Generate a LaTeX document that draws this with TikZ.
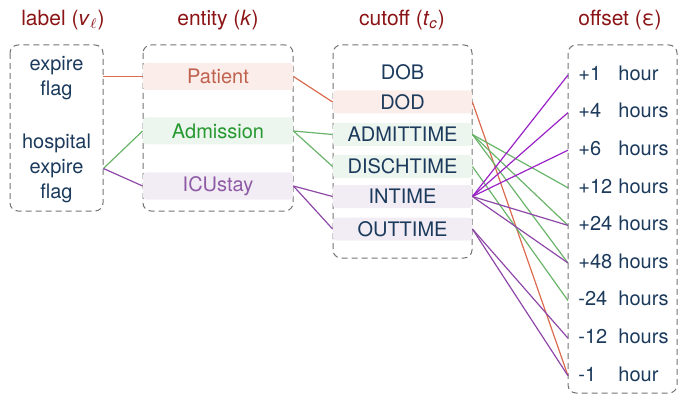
\documentclass[tikz,border=0pt]{standalone}
\usepackage{fontspec}
\setmainfont{TeX Gyre Heros}
\usetikzlibrary{calc}

\definecolor{titlered}{RGB}{139,20,22}
\definecolor{navy}{RGB}{27,58,92}
\definecolor{pattext}{RGB}{192,96,78}
\definecolor{patfill}{RGB}{251,238,234}
\definecolor{admtext}{RGB}{38,153,48}
\definecolor{admfill}{RGB}{236,245,238}
\definecolor{icutext}{RGB}{142,90,166}
\definecolor{icufill}{RGB}{242,236,244}
\definecolor{patline}{RGB}{219,107,79}
\definecolor{admline}{RGB}{106,180,106}
\definecolor{iculine}{RGB}{142,72,168}
\definecolor{inline}{RGB}{154,34,198}

\begin{document}
\begin{tikzpicture}[x=0.5pt,y=-0.5pt,
    title/.style={text=titlered,font=\fontsize{10.5}{12}\selectfont},
    group/.style={draw=black!55,line width=0.5pt,dash pattern=on 3pt off 2pt,rounded corners=4pt},
    label/.style={text=navy,font=\fontsize{10}{12.5}\selectfont,align=center,
        text width=46.5pt,inner xsep=0pt},
    entity/.style={font=\fontsize{10}{12}\selectfont,minimum width=75pt,minimum height=13.5pt,
        inner sep=0pt,rounded corners=1.5pt},
    cutoff/.style={text=navy,font=\fontsize{10}{12}\selectfont,minimum width=69.5pt,
        minimum height=11.5pt,inner sep=0pt,rounded corners=1.5pt},
    offset/.style={text=navy,font=\fontsize{10}{12}\selectfont,anchor=west,inner xsep=5pt,
        text height=7.2pt,text depth=2pt},
    link/.style={line width=0.6pt}]
    \useasboundingbox (0,0) rectangle (678,395);

    % titles
    \node[title] (tlabel) at (63,20) {label (\textit{v}$_{\ell}$)};
    \node[title] (tentity) at (218,20) {entity (\textit{k})};
    \node[title] (tcutoff) at (402,20) {cutoff (\textit{t}\textsubscript{\textit{c}})};
    \node[title] (toffset) at (620,20) {offset (ε)};

    % dashed groups
    \draw[group] (10,45) rectangle (103,211);
    \draw[group] (143,45) rectangle (293,211);
    \draw[group] (333,45) rectangle (472,258);
    \draw[group] (568,45) rectangle (677,393);

    % labels
    \node[label] (expire) at (56.5,78) {expire\\flag};
    \node[label] (hospital) at (56.5,168.5) {hospital\\expire\\flag};

    % entities
    \node[entity,fill=patfill,text=pattext] (patient) at (218,76.5) {Patient};
    \node[entity,fill=admfill,text=admtext] (admission) at (218,131) {Admission};
    \node[entity,fill=icufill,text=icutext] (icustay) at (218,186) {ICUstay};

    % cutoffs
    \node[cutoff] (dob) at (402.5,72) {DOB};
    \node[cutoff,fill=patfill] (dod) at (402.5,102) {DOD};
    \node[cutoff,fill=admfill] (admittime) at (402.5,134.5) {ADMITTIME};
    \node[cutoff,fill=admfill] (dischtime) at (402.5,166.5) {DISCHTIME};
    \node[cutoff,fill=icufill] (intime) at (402.5,196.5) {INTIME};
    \node[cutoff,fill=icufill] (outtime) at (402.5,229) {OUTTIME};

    % offsets
    \foreach \n/\u [count=\i] in {+1/hour,+4/hours,+6/hours,+12/hours,+24/hours,
        +48/hours,-24/hours,-12/hours,-1/hour}
        \node[offset] (off\i) at (568,{75+37.6*(\i-1)}) {\makebox[20pt][l]{\n}\u};

    % label -> entity
    \draw[link,patline] (patient.west -| expire.east) -- (patient.west);
    \draw[link,admline] (hospital.east) -- (admission.west);
    \draw[link,iculine] (hospital.east) -- (icustay.west);

    % entity -> cutoff
    \draw[link,patline] (patient.east) -- (dod.west);
    \draw[link,admline] (admission.east) -- (admittime.west);
    \draw[link,admline] (admission.east) -- (dischtime.west);
    \draw[link,iculine] (icustay.east) -- (intime.west);
    \draw[link,iculine] (icustay.east) -- (outtime.west);

    % cutoff -> offset
    \draw[link,patline] (dod.east) -- (off9.west);
    \foreach \i in {4,5,6}
        \draw[link,admline] (admittime.east) -- (off\i.west);
    \draw[link,admline] (dischtime.east) -- (off7.west);
    \foreach \i in {1,2,3}
        \draw[link,inline] (intime.east) -- (off\i.west);
    \foreach \i in {5,6}
        \draw[link,iculine] (intime.east) -- (off\i.west);
    \foreach \i in {8,9}
        \draw[link,iculine] (outtime.east) -- (off\i.west);
\end{tikzpicture}
\end{document}
